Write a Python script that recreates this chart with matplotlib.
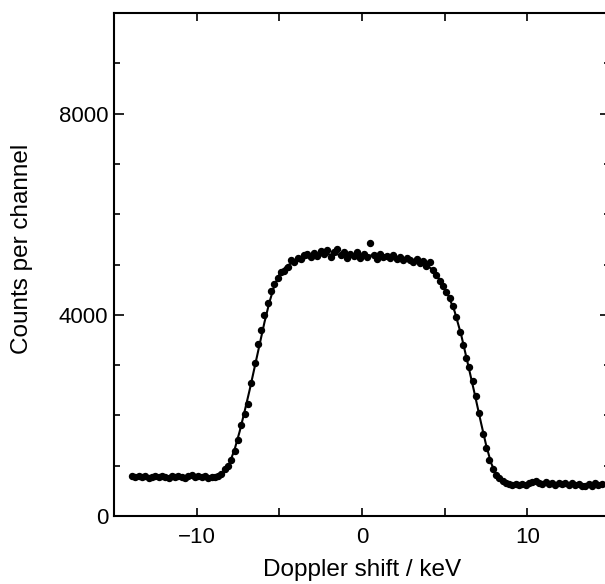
import numpy as np
import matplotlib.pyplot as plt
from matplotlib.ticker import MultipleLocator

plt.rcParams["font.family"] = ["Liberation Sans", "DejaVu Sans"]

# measured spectrum (channel centre in keV, counts)
shift = [
    -13.9, -13.7, -13.5, -13.3, -13.1, -12.9, -12.7, -12.5, -12.3, -12.1,
    -11.9, -11.7, -11.5, -11.3, -11.1, -10.9, -10.7, -10.5, -10.3, -10.1,
    -9.9, -9.7, -9.5, -9.3, -9.1, -8.9, -8.7, -8.5, -8.3, -8.1,
    -7.9, -7.7, -7.5, -7.3, -7.1, -6.9, -6.7, -6.5, -6.3, -6.1,
    -5.9, -5.7, -5.5, -5.3, -5.1, -4.9, -4.7, -4.5, -4.3, -4.1,
    -3.9, -3.7, -3.5, -3.3, -3.1, -2.9, -2.7, -2.5, -2.3, -2.1,
    -1.9, -1.7, -1.5, -1.3, -1.1, -0.9, -0.7, -0.5, -0.3, -0.1,
    0.1, 0.3, 0.5, 0.7, 0.9, 1.1, 1.3, 1.5, 1.7, 1.9,
    2.1, 2.3, 2.5, 2.7, 2.9, 3.1, 3.3, 3.5, 3.7, 3.9,
    4.1, 4.3, 4.5, 4.7, 4.9, 5.1, 5.3, 5.5, 5.7, 5.9,
    6.1, 6.3, 6.5, 6.7, 6.9, 7.1, 7.3, 7.5, 7.7, 7.9,
    8.1, 8.3, 8.5, 8.7, 8.9, 9.1, 9.3, 9.5, 9.7, 9.9,
    10.1, 10.3, 10.5, 10.7, 10.9, 11.1, 11.3, 11.5, 11.7, 11.9,
    12.1, 12.3, 12.5, 12.7, 12.9, 13.1, 13.3, 13.5, 13.7, 13.9,
    14.1, 14.3, 14.5,
]
counts = [
    800, 780, 790, 770, 790, 760, 780, 800, 770, 790,
    780, 760, 790, 770, 800, 780, 760, 790, 810, 780,
    800, 770, 790, 760, 780, 770, 790, 830, 930, 1000,
    1110, 1290, 1520, 1800, 2020, 2220, 2650, 3050, 3420, 3700,
    3990, 4230, 4480, 4620, 4740, 4850, 4880, 4950, 5080, 5050,
    5130, 5100, 5180, 5200, 5140, 5230, 5160, 5270, 5200, 5290,
    5150, 5240, 5300, 5180, 5250, 5130, 5210, 5160, 5250, 5120,
    5200, 5140, 5430, 5180, 5110, 5200, 5150, 5170, 5120, 5180,
    5100, 5150, 5080, 5120, 5090, 5050, 5100, 5030, 5070, 4980,
    5040, 4900, 4790, 4680, 4570, 4450, 4330, 4180, 3950, 3660,
    3400, 3150, 2960, 2690, 2390, 2040, 1630, 1360, 1110, 930,
    820, 760, 700, 660, 640, 620, 630, 610, 640, 620,
    650, 680, 700, 660, 640, 670, 630, 660, 620, 650,
    630, 660, 610, 650, 620, 640, 600, 590, 630, 600,
    660, 620, 640,
]

# fitted curve
fit_shift = [-13.9, -10.0, -9.0, -8.6, -8.3, -8.0, -7.7, -7.4, -7.1, -6.8,
             -6.5, -6.2, -5.9, -5.6, -5.3, -5.0, -4.6, -4.0, -3.0, -2.0,
             -1.0, 0.0, 1.0, 2.0, 3.0, 3.8, 4.3, 4.8, 5.2, 5.6,
             6.0, 6.4, 6.8, 7.2, 7.5, 7.8, 8.1, 8.4, 8.8, 9.5,
             11.0, 12.0, 13.0, 14.5]
fit_counts = [780, 780, 780, 790, 880, 1060, 1330, 1680, 2080, 2500,
              2950, 3400, 3850, 4250, 4580, 4800, 4960, 5080, 5160, 5200,
              5200, 5190, 5170, 5130, 5080, 5010, 4890, 4650, 4400, 4070,
              3600, 3030, 2450, 1850, 1420, 1060, 830, 700, 640, 630,
              640, 635, 625, 625]

fig = plt.figure(figsize=(6.05, 5.84), dpi=100)
ax = fig.add_axes([114 / 605, 68 / 584, 496 / 605, 503 / 584])

ax.plot(fit_shift, fit_counts, color="black", lw=1.5)
ax.plot(shift, counts, "o", color="black", ms=4.3, mec="black")

ax.set_xlim(-15, 15)
ax.set_ylim(0, 10000)
ax.set_xticks([-10, -5, 0, 5, 10], ["\u221210", "", "0", "", "10"])
ax.set_yticks([0, 4000, 8000], ["0", "4000", "8000"])
ax.yaxis.set_minor_locator(MultipleLocator(1000))
ax.tick_params(which="both", direction="in", top=True, right=True, width=1.2)
ax.tick_params(axis="x", length=6, labelsize=16, pad=8)
ax.tick_params(axis="y", which="major", length=7, labelsize=16, pad=4)
ax.tick_params(axis="y", which="minor", length=4)

for s in ax.spines.values():
    s.set_linewidth(1.5)

ax.set_xlabel("Doppler shift / keV", fontsize=17.5, labelpad=8)
ax.set_ylabel("Counts per channel", fontsize=17.5)
ax.yaxis.set_label_coords(-0.163, 0.531)

fig.savefig("out.png", dpi=100)
